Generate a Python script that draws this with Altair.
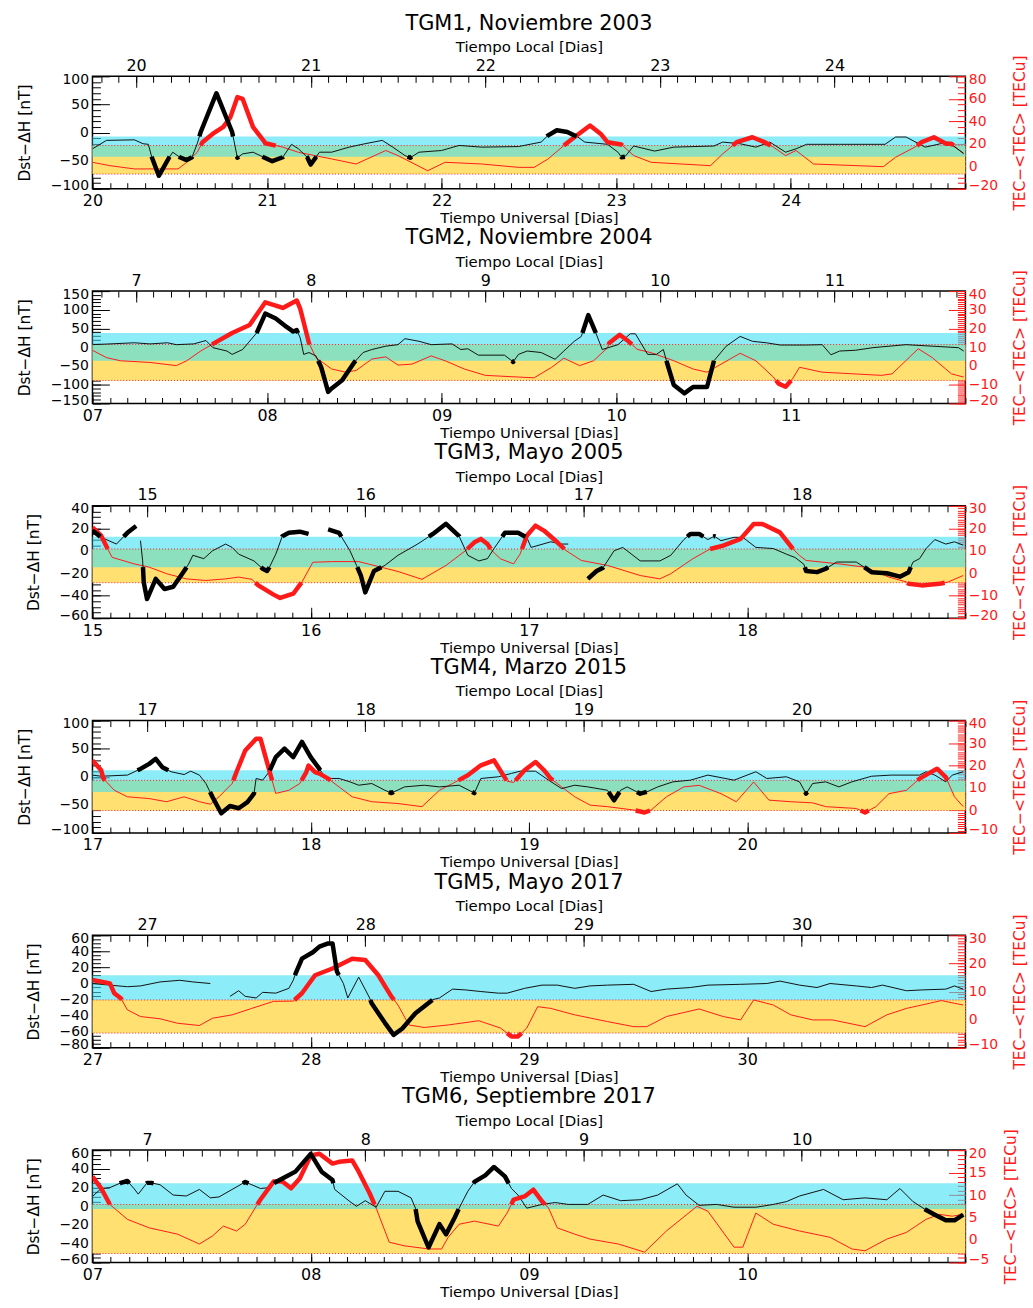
import altair as alt
import pandas as pd
import numpy as np

FONT = "DejaVu Sans"
W, H = 878, 113
CYAN = "#3fdff2"
YELLOW = "#ffe070"
RED = "#ff1a1a"

# ---------------- data ----------------
TITLES = ["TGM1, Noviembre 2003", "TGM2, Noviembre 2004", "TGM3, Mayo 2005",
          "TGM4, Marzo 2015", "TGM5, Mayo 2017", "TGM6, Septiembre 2017"]
X_DOMAINS = [[20, 25], [7, 12], [15, 19], [17, 21], [27, 31], [7, 11]]
UT_LABELS = [[20, 21, 22, 23, 24], [7, 8, 9, 10, 11], [15, 16, 17, 18],
             [17, 18, 19, 20], [27, 28, 29, 30], [7, 8, 9, 10]]
UT_ZERO_PAD = [False, True, False, False, False, True]
LT_LABELS = [[20, 21, 22, 23, 24], [7, 8, 9, 10, 11], [15, 16, 17, 18],
             [17, 18, 19, 20], [27, 28, 29, 30], [7, 8, 9, 10]]
LT_OFFSET = 0.25
X_MINOR = [0.1, 0.1, 1 / 12, 1 / 12, 1 / 12, 1 / 12]

LEFT_DOMAINS = [[-100, 100], [-150, 150], [-60, 40], [-100, 100], [-80, 60], [-60, 60]]
LEFT_MAJOR = [50, 50, 20, 50, 20, 20]
LEFT_MINOR = [10, 10, 5, 10, 5, 5]
RIGHT_DOMAINS = [[-20, 80], [-20, 40], [-20, 30], [-10, 40], [-10, 30], [-5, 20]]
RIGHT_MAJOR = [20, 10, 10, 10, 10, 5]
RIGHT_MINOR = [5, 1, 1, 1, 1, 1]

CYAN_BANDS = [[-43, -7], [-36, 38], [-14.6, 12.6], [-27, 11.5], [-20.5, 10.4], [-3, 24.5]]
YELLOW_BANDS = [[-7, 18.4], [-7.7, 11.5], [-4.2, 10.8], [0, 13.4], [-4.8, 7], [-3, 7.9]]

P1_BLACK = [(20.00, -29), (20.08, -14), (20.24, -13), (20.29, -20), (20.32, -21), (20.34, -44),
            (20.38, -77), (20.44, -44), (20.46, -35), (20.50, -44), (20.54, -49), (20.57, -44),
            (20.60, -20), (20.62, 1), (20.71, 70), (20.80, 1), (20.81, -14), (20.83, -45),
            (20.86, -38), (20.92, -35), (20.98, -44), (21.03, -51), (21.09, -44), (21.14, -21),
            (21.18, -29), (21.23, -44), (21.25, -57), (21.28, -44), (21.30, -35), (21.37, -35),
            (21.47, -26), (21.56, -20), (21.66, -14), (21.72, -26), (21.79, -41), (21.82, -45),
            (21.87, -35), (22.00, -32), (22.10, -23), (22.23, -26), (22.44, -25), (22.57, -17),
            (22.61, -5), (22.66, 4), (22.72, 1), (22.78, -8), (22.82, -17), (22.95, -21),
            (23.01, -35), (23.03, -44), (23.05, -43), (23.10, -24), (23.22, -33), (23.33, -26),
            (23.56, -24), (23.61, -17), (23.71, -20), (23.80, -26), (23.88, -17), (23.97, -35),
            (24.03, -29), (24.09, -21), (24.28, -21), (24.54, -21), (24.60, -8), (24.66, -8),
            (24.77, -26), (24.90, -17), (24.99, -37)]
P1_RED = [(20.00, 3.5), (20.10, 0.5), (20.24, -2.4), (20.49, -2.4), (20.54, 3.5), (20.60, 12.4),
          (20.63, 21.4), (20.69, 29), (20.75, 35), (20.79, 43.7), (20.83, 61.5), (20.86, 60),
          (20.92, 34.8), (20.98, 22.9), (20.99, 20.5), (21.09, 17), (21.18, 12.4), (21.37, 6.5),
          (21.51, 2), (21.68, 14), (21.75, 9.5), (21.92, -4), (22.02, 3.5), (22.23, 2),
          (22.44, -1), (22.53, -1), (22.61, 6.5), (22.70, 18.4), (22.76, 25.8), (22.85, 36.3),
          (22.91, 29), (22.95, 21.4), (23.03, 19.3), (23.10, 9.5), (23.20, 3.5), (23.54, 0.5),
          (23.61, 11), (23.69, 21.4), (23.78, 25.8), (23.85, 21.4), (23.90, 17), (23.97, 9.5),
          (24.03, 14), (24.13, 2), (24.53, -0.4), (24.60, 8), (24.71, 17), (24.75, 21.4),
          (24.82, 25.8), (24.89, 20), (24.92, 20), (24.99, 11)]

P2_BLACK = [(7.00, 7), (7.10, 9), (7.24, 12), (7.33, 9), (7.43, 12), (7.48, 7), (7.58, 9),
            (7.65, 18), (7.69, -1), (7.77, -10), (7.80, -19), (7.86, -6), (7.94, 38), (7.99, 90),
            (8.05, 77), (8.11, 55), (8.15, 42), (8.17, 46), (8.19, 25), (8.21, -19), (8.24, -14),
            (8.28, -23), (8.31, -53), (8.35, -119), (8.37, -110), (8.43, -88), (8.50, -40),
            (8.55, -14), (8.60, -6), (8.68, 3), (8.75, 7), (8.79, 23), (8.87, 16), (8.94, 7),
            (9.06, 9), (9.11, -6), (9.15, -4), (9.21, -21), (9.36, -21), (9.41, -39), (9.44, -19),
            (9.49, -10), (9.57, -14), (9.65, -32), (9.70, -10), (9.76, 16), (9.80, 29), (9.84, 86),
            (9.88, 42), (9.92, -6), (10.01, 7), (10.08, 36), (10.11, 36), (10.18, -19),
            (10.23, -19), (10.27, -6), (10.29, -40), (10.33, -101), (10.39, -123), (10.44, -106),
            (10.52, -106), (10.56, -36), (10.63, 3), (10.71, 29), (10.78, 16), (10.86, 12),
            (10.94, 6), (11.09, 6), (11.18, 7), (11.23, -20), (11.28, -10), (11.37, -8),
            (11.47, -1), (11.66, 7), (11.81, 3), (11.96, -1), (11.99, -10)]
P2_RED = [(7.00, 8.4), (7.08, 4.5), (7.16, 2.8), (7.33, 1.9), (7.48, 0.2), (7.54, 2.8), (7.62, 8),
          (7.69, 11.8), (7.80, 17.6), (7.90, 21.9), (7.99, 34), (8.05, 32.3), (8.09, 31),
          (8.17, 35), (8.19, 30.6), (8.24, 12.3), (8.28, 4.5), (8.37, -1.6), (8.45, -3.3),
          (8.51, -2.4), (8.60, 3.7), (8.68, 4.9), (8.75, 0.5), (8.83, 1), (8.94, 5.4),
          (9.02, 2.8), (9.13, -1.6), (9.25, -5), (9.44, -5.9), (9.53, -6.3), (9.63, -0.7),
          (9.70, 4.2), (9.79, 0.2), (9.87, 2.8), (9.95, 9.7), (9.96, 12.3), (10.02, 16.7),
          (10.07, 13.2), (10.12, 8.9), (10.20, 7.1), (10.33, 2.8), (10.44, -1.6), (10.52, -3.3),
          (10.71, 6.8), (10.80, 2.8), (10.90, -5.9), (10.93, -9.4), (10.97, -11.1), (11.01, -6.8),
          (11.05, -0.7), (11.18, -3.3), (11.52, -5), (11.58, -4.2), (11.73, 9.2), (11.81, 4.5),
          (11.92, -4.2), (11.99, -5.9)]

P3_BLACK = [(15.00, 18), (15.04, 12), (15.11, 6), (15.16, 16), (15.20, 22), None,
            (15.22, 9), (15.23, -9), (15.235, -28), (15.25, -43), (15.29, -25), (15.33, -34),
            (15.37, -32), (15.42, -18), (15.44, -12), (15.46, -4), (15.51, -7), (15.55, 0),
            (15.61, 6), (15.64, 3), (15.67, -3), (15.74, -9), (15.78, -16), (15.80, -18),
            (15.81, -15), (15.84, -3), (15.87, 13), (15.90, 16), (15.95, 17), (15.99, 15), None,
            (16.08, 19), (16.13, 16), (16.18, 0), (16.21, -13), (16.23, -22), (16.25, -37),
            (16.29, -18), (16.34, -13), (16.40, -4), (16.49, 6), (16.56, 15), (16.62, 24),
            (16.68, 13), (16.72, -4), (16.77, -9), (16.81, -7), (16.84, 2), (16.89, 16),
            (16.95, 16), (16.99, 12), (17.01, 3), (17.10, 8), (17.15, 6), (17.18, 6), None,
            (17.27, -25), (17.31, -18), (17.34, -15), (17.39, 0), (17.43, 3), (17.51, -9),
            (17.60, -9), (17.65, -4), (17.71, 10), (17.74, 15), (17.78, 15), (17.82, 10),
            (17.85, 13), (17.88, 9), (17.94, 12), (17.98, 12), (18.04, 3), (18.12, 2),
            (18.18, -3), (18.22, -6), (18.26, -12), (18.27, -18), (18.32, -19), (18.36, -16),
            (18.41, -10), (18.50, -10), (18.54, -15), (18.57, -19), (18.64, -20), (18.70, -23),
            (18.74, -19), (18.76, -10), (18.79, -7), (18.82, 2), (18.86, 10), (18.91, 6),
            (18.95, 8), (18.99, 5)]
P3_RED = [(15.00, 20.4), (15.04, 16.7), (15.07, 10.8), (15.09, 7.1), (15.19, 4.2), (15.26, 2.7),
          (15.34, -0.2), (15.43, -2.5), (15.52, -3.2), (15.61, -2.5), (15.67, -1.7),
          (15.73, -2.7), (15.76, -5.4), (15.83, -9.5), (15.86, -11), (15.92, -9.1),
          (15.96, -3.9), (16.01, 4.9), (16.10, 5.2), (16.22, 5.2), (16.40, 0.8), (16.51, -2.7),
          (16.62, 3.5), (16.71, 10.1), (16.75, 13.8), (16.78, 15.3), (16.81, 13), (16.83, 10.1),
          (16.87, 6.4), (16.93, 4.2), (16.96, 8.6), (16.99, 16.7), (17.03, 21.2), (17.07, 18.9),
          (17.13, 13.8), (17.17, 10.1), (17.24, 5.7), (17.36, 3.5), (17.51, -1), (17.60, -2.5),
          (17.65, -0.2), (17.75, 6.4), (17.83, 10.8), (17.89, 12.3), (17.97, 15.3),
          (18.03, 21.9), (18.07, 21.9), (18.15, 18.2), (18.21, 10.8), (18.24, 7.9), (18.27, 5.7),
          (18.42, 4.2), (18.54, 2.7), (18.65, -1.7), (18.73, -3.9), (18.74, -4.7), (18.80, -5.4),
          (18.88, -4.7), (18.92, -3.9), (18.99, -1)]

P4_BLACK = [(17.00, 3), (17.04, 1), (17.16, 3), (17.22, 14), (17.26, 23), (17.29, 32),
            (17.32, 17), (17.36, 9), (17.42, 4), (17.45, 10), (17.49, 3), (17.52, -12),
            (17.55, -36), (17.59, -65), (17.63, -52), (17.67, -56), (17.71, -45), (17.74, -30),
            (17.75, -3), (17.78, -6), (17.81, 9), (17.84, 35), (17.88, 50), (17.92, 35),
            (17.96, 62), (18.00, 35), (18.04, 14), (18.07, -3), (18.13, -3), (18.18, -9),
            (18.22, -15), (18.28, -12), (18.34, -24), (18.37, -29), (18.43, -18), (18.52, -15),
            (18.59, -18), (18.68, -15), (18.75, -29), (18.78, -3), (18.86, 0), (18.92, 6),
            (18.96, 10), (19.03, 10), (19.09, -6), (19.15, -21), (19.21, -15), (19.27, -18),
            (19.36, -24), (19.39, -42), (19.42, -24), (19.45, -18), (19.51, -30), (19.54, -27),
            (19.59, -18), (19.66, -9), (19.74, -6), (19.82, 3), (19.94, -6), (20.04, 9),
            (20.09, -3), (20.18, 0), (20.24, -9), (20.27, -30), (20.30, -12), (20.36, -9),
            (20.42, -18), (20.48, -9), (20.57, 1), (20.66, 3), (20.79, 3), (20.82, 9),
            (20.86, 3), (20.91, -9), (20.94, 3), (20.99, 9)]
P4_RED = [(17.00, 22.3), (17.04, 17.9), (17.05, 14.2), (17.10, 9), (17.16, 6.1), (17.26, 5.3),
          (17.34, 3.9), (17.42, 6.1), (17.49, 3.9), (17.54, 2.8), (17.58, 6.1), (17.64, 12),
          (17.66, 17.1), (17.70, 26.7), (17.75, 31.9), (17.77, 31.9), (17.81, 17.9),
          (17.84, 7.6), (17.90, 9), (17.95, 12), (17.98, 17.1), (17.99, 20), (18.02, 17.1),
          (18.04, 16.4), (18.08, 14.2), (18.13, 10.5), (18.19, 6.1), (18.28, 3.9), (18.40, 3.1),
          (18.51, 1.7), (18.59, 9), (18.65, 12), (18.72, 15.7), (18.78, 20.1), (18.84, 22.3),
          (18.90, 13), (18.93, 12.5), (18.98, 17.9), (19.03, 21.6), (19.07, 17.9),
          (19.10, 14.2), (19.15, 10.5), (19.21, 6.1), (19.28, 2.4), (19.36, 1.7), (19.48, 0.2),
          (19.53, -0.9), (19.56, 0.2), (19.63, 6.1), (19.71, 10.5), (19.78, 11.2), (19.88, 7.5),
          (19.95, 3.9), (20.03, 12.7), (20.10, 4.6), (20.20, 3.9), (20.30, 3.4), (20.36, 1.7),
          (20.50, 0.9), (20.54, -0.9), (20.59, 1.7), (20.65, 7.5), (20.73, 9), (20.79, 14.2),
          (20.83, 16.4), (20.87, 18.6), (20.91, 14.9), (20.95, 6.1), (20.99, 1.7)]

P5_BLACK = [(27.00, 0), (27.08, -2), (27.16, -4), (27.22, -3), (27.31, 2), (27.40, 4),
            (27.46, 2), (27.54, 0), None, (27.63, -16), (27.67, -9), (27.70, -16), (27.75, -18),
            (27.78, -11), (27.84, -12), (27.90, -6), (27.92, 4), (27.93, 12), (27.96, 31),
            (28.01, 39), (28.04, 46), (28.08, 50), (28.10, 50), (28.12, 15), (28.15, 0),
            (28.17, -18), (28.22, 8), (28.27, -18), (28.28, -25), (28.34, -49), (28.38, -64),
            (28.42, -56), (28.48, -37), (28.56, -20), (28.59, -18), (28.65, -7), (28.71, -8),
            (28.78, -10), (28.86, -12), (28.90, -12), (28.98, -6), (29.06, -2), (29.13, -2),
            (29.21, -6), (29.28, -3), (29.36, -2), (29.48, -1), (29.56, -10), (29.63, -7),
            (29.74, -5), (29.82, -2), (29.97, -1), (30.09, 0), (30.15, 3), (30.24, -2),
            (30.32, -5), (30.38, 0), (30.50, -3), (30.57, -5), (30.62, -2), (30.73, -9),
            (30.80, -8), (30.91, -7), (30.95, -3), (30.99, -7)]
P5_RED = [(27.00, 14.1), (27.08, 12.9), (27.10, 9.4), (27.13, 7.6), (27.16, 3.5), (27.22, 1.1),
          (27.31, 0.3), (27.39, -1.3), (27.49, -2.1), (27.55, 0.5), (27.64, 1.7), (27.73, 4),
          (27.83, 6.5), (27.92, 6.6), (27.96, 9.4), (28.02, 15.8), (28.10, 18.2), (28.19, 21.7),
          (28.25, 21.2), (28.31, 15.8), (28.37, 8.2), (28.40, 5.2), (28.45, -1.9), (28.52, -2.8),
          (28.63, -1.9), (28.77, -0.4), (28.87, -3), (28.92, -6), (28.95, -6), (28.99, -3),
          (29.04, 4.6), (29.10, 4), (29.21, 1.7), (29.36, -0.7), (29.48, -2.5), (29.54, -2.5),
          (29.63, 1.1), (29.78, 3.8), (29.89, 1.1), (29.97, -0.1), (30.03, 7.0), (30.12, 5.2),
          (30.20, 1.7), (30.30, -0.1), (30.39, -0.1), (30.54, -2.5), (30.64, 1.7), (30.73, 4),
          (30.80, 5.2), (30.89, 6.8), (30.95, 5.8), (30.99, 5.2)]

P6_BLACK = [(7.00, 10.5), (7.04, 19), (7.08, 20), (7.13, 25), (7.16, 27), (7.19, 19), (7.21, 13),
            (7.25, 25), (7.27, 25), (7.31, 23), (7.37, 12), (7.43, 11), (7.49, 18), (7.54, 9),
            (7.58, 10), (7.64, 18), (7.70, 26), (7.77, 19), (7.81, 20), (7.84, 26), (7.89, 32),
            (7.93, 37), (8.00, 56), (8.05, 37), (8.10, 28), (8.11, 18), (8.18, 5), (8.21, 0),
            (8.25, 6), (8.30, -1), (8.34, 16), (8.40, 16), (8.46, 9), (8.48, -2), (8.49, -16),
            (8.54, -44), (8.59, -19), (8.62, -30), (8.66, -12), (8.68, -2), (8.72, 16),
            (8.75, 26), (8.80, 33), (8.84, 42), (8.89, 32), (8.92, 19), (8.95, 12), (8.99, -2),
            (9.06, 2), (9.12, 4), (9.18, 2), (9.27, 2), (9.34, 12), (9.42, 6), (9.51, 7),
            (9.59, 12), (9.68, 24), (9.72, 12), (9.78, 1), (9.86, 2), (9.94, -1), (10.04, -1),
            (10.12, 2), (10.18, 5), (10.24, 11), (10.35, 18), (10.44, 7), (10.54, 9), (10.64, 7),
            (10.70, 19), (10.76, 5), (10.82, -4), (10.86, -9), (10.91, -15), (10.95, -15),
            (10.99, -9)]
P6_RED = [(7.00, 14.1), (7.04, 11.5), (7.08, 7.9), (7.16, 4.6), (7.26, 2.7), (7.39, 1.3),
          (7.49, -0.9), (7.55, 0.9), (7.60, 3.1), (7.66, 2), (7.70, 3.5), (7.75, 7.5), (7.77, 9),
          (7.83, 13), (7.87, 13), (7.91, 11.5), (7.95, 13.7), (8.00, 18.8), (8.04, 19.2),
          (8.10, 17), (8.13, 17.4), (8.19, 17.7), (8.22, 15.2), (8.27, 10.4), (8.30, 7.1),
          (8.36, -0.5), (8.43, -1.3), (8.54, -2), (8.60, -2), (8.63, 0.6), (8.68, 3.5),
          (8.75, 4.2), (8.86, 3.1), (8.90, 6), (8.93, 9), (8.98, 9.7), (9.02, 11.2), (9.06, 8.6),
          (9.09, 7.1), (9.13, 2.7), (9.21, 1.3), (9.28, 0.2), (9.41, -0.9), (9.53, -2.7),
          (9.63, 2), (9.77, 7.5), (9.82, 6.4), (9.94, -1.6), (9.98, -1.6), (10.04, 6),
          (10.12, 3.5), (10.24, 2), (10.38, 0.6), (10.48, -2), (10.54, -2.4), (10.64, 0.2),
          (10.73, 1.7), (10.82, 4.6), (10.88, 5.7), (10.94, 5.3), (10.99, 5.7)]

BLACK_SERIES = [P1_BLACK, P2_BLACK, P3_BLACK, P4_BLACK, P5_BLACK, P6_BLACK]
RED_SERIES = [P1_RED, P2_RED, P3_RED, P4_RED, P5_RED, P6_RED]


# ---------------- helpers ----------------
def runs(points):
    out, cur = [], []
    for p in points:
        if p is None:
            if len(cur) > 1:
                out.append(cur)
            cur = []
        else:
            cur.append(p)
    if len(cur) > 1:
        out.append(cur)
    return out


def thin_df(points):
    rows = []
    for g, run in enumerate(runs(points)):
        for i, (t, v) in enumerate(run):
            rows.append({"t": t, "v": v, "g": g, "i": i})
    return pd.DataFrame(rows, columns=["t", "v", "g", "i"])


def thick_df(points, lo, hi):
    rows = []
    g = 0
    for run in runs(points):
        open_ = False
        for (t0, v0), (t1, v1) in zip(run[:-1], run[1:]):
            cuts = [0.0, 1.0]
            for b in (lo, hi):
                if (v0 - b) * (v1 - b) < 0:
                    cuts.append((b - v0) / (v1 - v0))
            cuts.sort()
            for a, c in zip(cuts[:-1], cuts[1:]):
                vm = v0 + (a + c) / 2 * (v1 - v0)
                if vm > hi or vm < lo:
                    if not open_:
                        g += 1
                        open_ = True
                        rows.append({"t": t0 + a * (t1 - t0), "v": v0 + a * (v1 - v0),
                                     "g": g, "i": len(rows)})
                    rows.append({"t": t0 + c * (t1 - t0), "v": v0 + c * (v1 - v0),
                                 "g": g, "i": len(rows)})
                else:
                    open_ = False
    return pd.DataFrame(rows, columns=["t", "v", "g", "i"])


def arange(lo, hi, step):
    n = int(np.floor((hi - lo) / step + 1e-6))
    return [round(lo + k * step, 6) for k in range(n + 1)]


def base_axis(**kw):
    d = dict(grid=False, domain=False, labelFont=FONT, titleFont=FONT,
             titleFontWeight="normal", labelFontWeight="normal")
    d.update(kw)
    return alt.Axis(**d)


def panel(k):
    xdom = X_DOMAINS[k]
    ldom, rdom = LEFT_DOMAINS[k], RIGHT_DOMAINS[k]
    cyan, yellow = CYAN_BANDS[k], YELLOW_BANDS[k]

    xsc = alt.Scale(domain=xdom, nice=False, zero=False)
    lsc = alt.Scale(domain=ldom, nice=False, zero=False)
    rsc = alt.Scale(domain=rdom, nice=False, zero=False)

    if UT_ZERO_PAD[k]:
        ut_expr = "datum.value < 10 ? '0' + format(datum.value, 'd') : format(datum.value, 'd')"
    else:
        ut_expr = "format(datum.value, 'd')"
    lt_expr = "format(datum.value - %s, 'd')" % LT_OFFSET

    step = X_MINOR[k]
    bottom_minor = arange(xdom[0], xdom[1], step)
    top_start = LT_LABELS[k][0] + LT_OFFSET
    top_start = top_start - np.floor((top_start - xdom[0]) / step + 1e-6) * step
    top_minor = [v for v in arange(top_start, xdom[1], step) if xdom[0] <= v <= xdom[1]]
    top_major = [v + LT_OFFSET for v in LT_LABELS[k]]

    ax_bottom_major = base_axis(orient="bottom", values=UT_LABELS[k], labelExpr=ut_expr,
                                tickSize=11, offset=-11, tickColor="black", labelColor="black",
                                labelFontSize=16, labelPadding=4, labelFlush=False,
                                labelOverlap=False, title="Tiempo Universal [Dias]",
                                titleFontSize=15, titlePadding=2, titleColor="black")
    ax_bottom_minor = base_axis(orient="bottom", values=bottom_minor, tickSize=6, offset=-6,
                                labels=False, tickColor="black", title=None)
    ax_top_major = base_axis(orient="top", values=top_major, labelExpr=lt_expr,
                             tickSize=11, offset=-11, tickColor="black", labelColor="black",
                             labelFontSize=16, labelPadding=3, labelFlush=False,
                             labelOverlap=False, title="Tiempo Local [Dias]",
                             titleFontSize=15, titlePadding=3, titleColor="black")
    ax_top_minor = base_axis(orient="top", values=top_minor, tickSize=6, offset=-6,
                             labels=False, tickColor="black", title=None)

    ax_left_major = base_axis(orient="left", values=arange(ldom[0], ldom[1], LEFT_MAJOR[k]),
                              format="d", tickSize=17, offset=-17, tickColor="black",
                              labelColor="black", labelFontSize=14, labelPadding=4,
                              labelFlush=True, labelFlushOffset=4, labelOverlap=False,
                              title="Dst−ΔH [nT]", titleFontSize=15.5, titlePadding=18,
                              titleColor="black")
    ax_left_minor = base_axis(orient="left", values=arange(ldom[0], ldom[1], LEFT_MINOR[k]),
                              tickSize=8, offset=-8, labels=False, tickColor="black", title=None)
    ax_right_major = base_axis(orient="right", values=arange(rdom[0], rdom[1], RIGHT_MAJOR[k]),
                               format="d", tickSize=17, offset=-17, tickColor=RED,
                               labelColor=RED, labelFontSize=14, labelPadding=3,
                               labelFlush=True, labelFlushOffset=4, labelOverlap=False,
                               title="TEC−<TEC> [TECu]", titleFontSize=15.5, titlePadding=15,
                               titleColor=RED, titleAngle=270, titleBaseline="top")
    ax_right_minor = base_axis(orient="right", values=arange(rdom[0], rdom[1], RIGHT_MINOR[k]),
                               tickSize=8, offset=-8, labels=False, tickColor=RED, title=None)

    band_y = pd.DataFrame({"t": [xdom[0]], "t2": [xdom[1]], "v": [yellow[0]], "v2": [yellow[1]]})
    band_c = pd.DataFrame({"t": [xdom[0]], "t2": [xdom[1]], "v": [cyan[0]], "v2": [cyan[1]]})

    yellow_l = alt.Chart(band_y).mark_rect(color=YELLOW, opacity=1).encode(
        x=alt.X("t:Q", scale=xsc, axis=ax_top_major), x2="t2:Q",
        y=alt.Y("v:Q", scale=rsc, axis=ax_right_major), y2="v2:Q")
    cyan_l = alt.Chart(band_c).mark_rect(color=CYAN, opacity=0.6).encode(
        x=alt.X("t:Q", scale=xsc, axis=ax_bottom_major), x2="t2:Q",
        y=alt.Y("v:Q", scale=lsc, axis=ax_left_major), y2="v2:Q")
    rules = alt.Chart(pd.DataFrame({"v": yellow})).mark_rule(
        color=RED, strokeDash=[1, 2], strokeWidth=1).encode(
        y=alt.Y("v:Q", scale=rsc, axis=ax_right_minor))

    red_thin = alt.Chart(thin_df(RED_SERIES[k])).mark_line(
        color=RED, strokeWidth=1, clip=True).encode(
        x=alt.X("t:Q", scale=xsc, axis=ax_top_minor),
        y=alt.Y("v:Q", scale=rsc, axis=None), detail="g:N", order="i:Q")
    black_thin = alt.Chart(thin_df(BLACK_SERIES[k])).mark_line(
        color="#111111", strokeWidth=1, clip=True).encode(
        x=alt.X("t:Q", scale=xsc, axis=ax_bottom_minor),
        y=alt.Y("v:Q", scale=lsc, axis=ax_left_minor), detail="g:N", order="i:Q")
    red_thick = alt.Chart(thick_df(RED_SERIES[k], *yellow)).mark_line(
        color=RED, strokeWidth=4.5, clip=True, strokeJoin="round").encode(
        x=alt.X("t:Q", scale=xsc, axis=None),
        y=alt.Y("v:Q", scale=rsc, axis=None), detail="g:N", order="i:Q")
    black_thick = alt.Chart(thick_df(BLACK_SERIES[k], *cyan)).mark_line(
        color="black", strokeWidth=4.5, clip=True, strokeJoin="round").encode(
        x=alt.X("t:Q", scale=xsc, axis=None),
        y=alt.Y("v:Q", scale=lsc, axis=None), detail="g:N", order="i:Q")

    return alt.layer(
        yellow_l, cyan_l, rules, red_thin, black_thin, red_thick, black_thick
    ).resolve_scale(x="independent", y="independent").resolve_axis(
        x="independent", y="independent"
    ).properties(
        width=W, height=H,
        title=alt.TitleParams(TITLES[k], font=FONT, fontSize=21, fontWeight="normal",
                              color="black", anchor="middle", offset=6)
    )


chart = alt.vconcat(*[panel(k) for k in range(6)], spacing=103, bounds="flush").configure_view(
    stroke="black", strokeWidth=1.5
).properties(
    padding={"left": 16, "top": 8, "right": 4, "bottom": 4},
    background="white"
)

chart.save("out.html", embed_options={"renderer": "svg", "actions": False})
